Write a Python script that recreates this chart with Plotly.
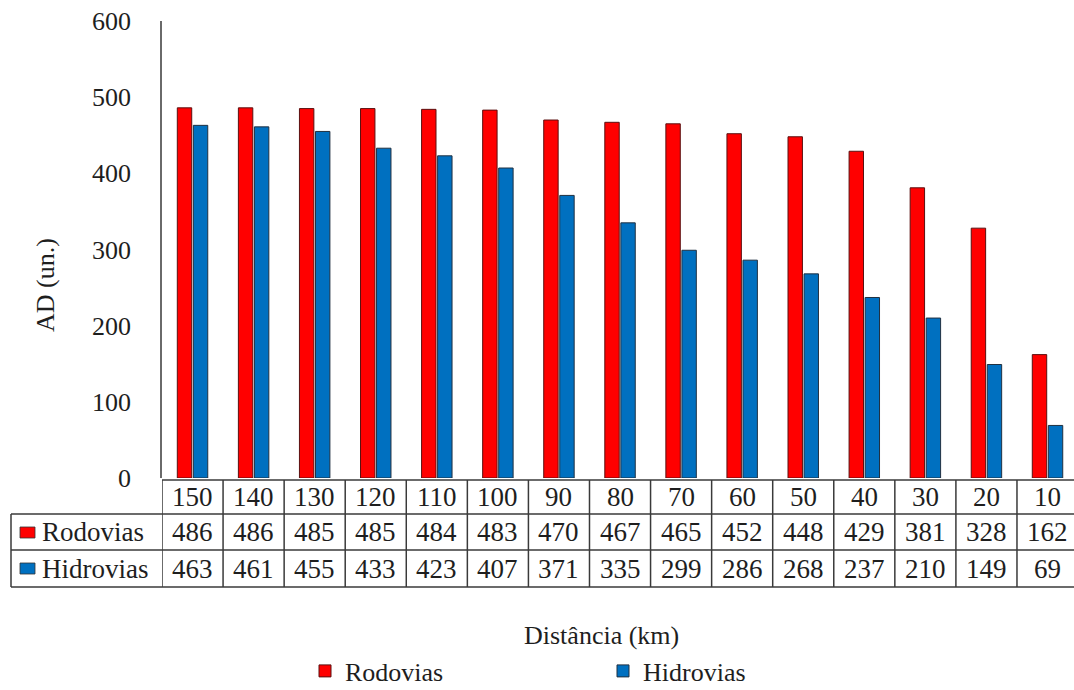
import plotly.graph_objects as go

# Distance classes (km) and AD counts per transport mode
distancias = ["150", "140", "130", "120", "110", "100", "90", "80", "70", "60", "50", "40", "30", "20", "10"]
rodovias = [486, 486, 485, 485, 484, 483, 470, 467, 465, 452, 448, 429, 381, 328, 162]
hidrovias = [463, 461, 455, 433, 423, 407, 371, 335, 299, 286, 268, 237, 210, 149, 69]
y_ticks = [0, 100, 200, 300, 400, 500, 600]

COR_ROD = "#FF0000"
COR_HID = "#0070C0"
LINHA = "#3a3a3a"
TEXTO = "#1e1e1e"
FONTE = "'Liberation Serif', 'DejaVu Serif', serif"

W, H = 1074, 690
X0, X1 = 162, 1074          # plot area, pixels
Y_TOP, Y_BOT = 21, 478
COL_W = 61.07               # width of one category column in pixels
PW, PH = X1 - X0, Y_BOT - Y_TOP


def xp(p):
    """pixel x -> paper x"""
    return (p - X0) / PW


def yp(p):
    """pixel y -> paper y"""
    return (Y_BOT - p) / PH


fig = go.Figure()
fig.add_trace(go.Bar(name="Rodovias", x=distancias, y=rodovias,
                     marker=dict(color=COR_ROD, line=dict(color="#5a1010", width=1))))
fig.add_trace(go.Bar(name="Hidrovias", x=distancias, y=hidrovias,
                     marker=dict(color=COR_HID, line=dict(color="#203040", width=1))))

# ---- data table under the chart ----
row_cat, row_rod, row_hid, row_end = 480, 514, 550, 587
left = 11
shapes = []


def hline(y, x_from_paper, width=1.5):
    shapes.append(dict(type="line", xref="paper", yref="paper",
                       x0=x_from_paper, x1=1.0, y0=yp(y), y1=yp(y),
                       line=dict(color=LINHA, width=width)))


hline(row_cat, 0.0)
hline(row_rod, xp(left))
hline(row_hid, xp(left))
hline(row_end, xp(left))
# left border of the series-name column
shapes.append(dict(type="line", xref="paper", yref="paper",
                   x0=xp(left), x1=xp(left), y0=yp(row_rod), y1=yp(row_end),
                   line=dict(color=LINHA, width=1.5)))
# column separators between categories
for i in range(len(distancias) + 1):
    shapes.append(dict(type="line", xref="x", yref="paper",
                       x0=i - 0.5, x1=i - 0.5, y0=yp(row_cat), y1=yp(row_end),
                       line=dict(color=LINHA, width=1.5)))
# legend keys inside the table
for (y0, y1), cor in [((527, 538), COR_ROD), ((563, 574), COR_HID)]:
    shapes.append(dict(type="rect", xref="paper", yref="paper",
                       x0=xp(20), x1=xp(35), y0=yp(y1), y1=yp(y0),
                       fillcolor=cor, line=dict(color="#333333", width=0.8)))

annotations = []
tab_font = dict(family=FONTE, size=27, color=TEXTO)
for i, cat in enumerate(distancias):
    for yc, txt in [((row_cat + row_rod) / 2, cat),
                    ((row_rod + row_hid) / 2, str(rodovias[i])),
                    ((row_hid + row_end) / 2, str(hidrovias[i]))]:
        annotations.append(dict(xref="x", yref="paper", x=i, y=yp(yc),
                                text=txt, showarrow=False, font=tab_font,
                                xanchor="center", yanchor="middle"))
for yc, nome in [((row_rod + row_hid) / 2, "Rodovias"), ((row_hid + row_end) / 2, "Hidrovias")]:
    annotations.append(dict(xref="paper", yref="paper", x=xp(40), y=yp(yc),
                            text=nome, showarrow=False, font=tab_font,
                            xanchor="left", yanchor="middle"))

# axis titles
annotations.append(dict(xref="paper", yref="paper", x=xp(46), y=yp(285),
                        text="AD (un.)", textangle=-90, showarrow=False,
                        font=dict(family=FONTE, size=26, color=TEXTO),
                        xanchor="center", yanchor="middle"))
annotations.append(dict(xref="paper", yref="paper", x=xp(601), y=yp(635),
                        text="Distância (km)", showarrow=False,
                        font=dict(family=FONTE, size=26, color=TEXTO),
                        xanchor="center", yanchor="middle"))

fig.update_layout(
    width=W, height=H,
    margin=dict(l=X0, r=W - X1, t=Y_TOP, b=H - Y_BOT, pad=0, autoexpand=False),
    paper_bgcolor="white", plot_bgcolor="white",
    barmode="group", bargap=0.475, bargroupgap=0.1,
    font=dict(family=FONTE, color=TEXTO),
    shapes=shapes, annotations=annotations,
    legend=dict(orientation="h", x=xp(305), y=yp(671), xanchor="left", yanchor="middle",
                font=dict(family=FONTE, size=26, color=TEXTO),
                entrywidth=253, entrywidthmode="pixels", bgcolor="rgba(0,0,0,0)"),
    showlegend=True,
)
fig.update_xaxes(type="category", range=[-0.5, -0.5 + PW / COL_W],
                 showticklabels=False, showline=False, showgrid=False, zeroline=False, ticks="")
fig.update_yaxes(range=[0, 600], tickvals=y_ticks, showgrid=False, zeroline=False,
                 showline=True, linecolor="#6a6a6a", linewidth=1.5,
                 ticks="", ticklabelstandoff=24,
                 tickfont=dict(family=FONTE, size=26, color=TEXTO))

fig.write_html("out.html")
